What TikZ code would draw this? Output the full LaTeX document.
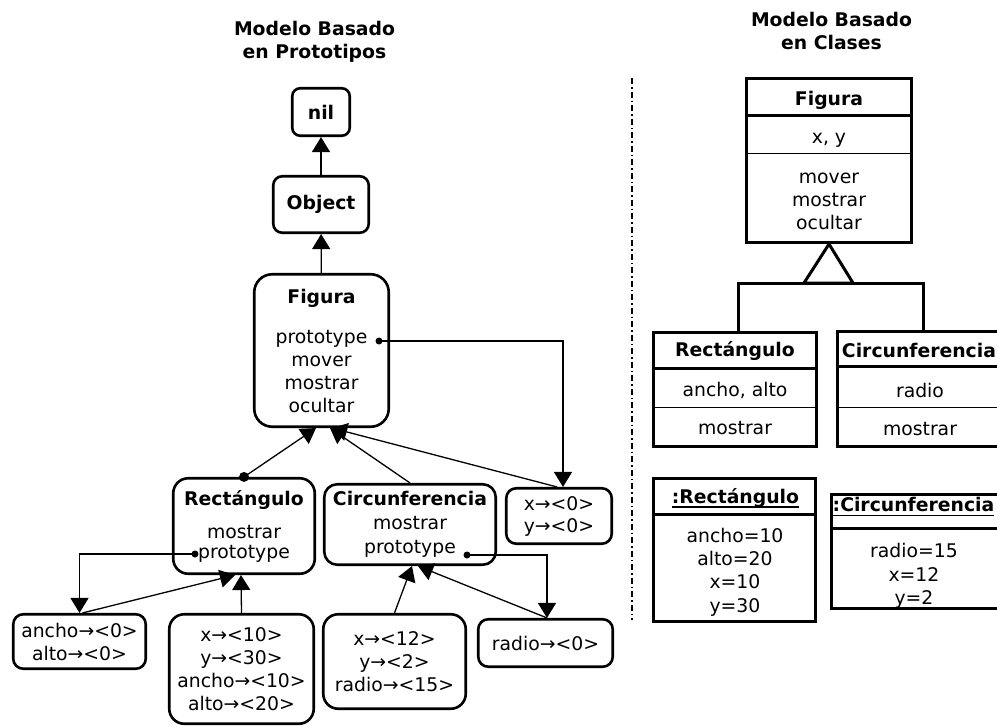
\documentclass[tikz,border=0pt]{standalone}
\usepackage{fontspec}
\setmainfont{DejaVu Sans}
\usetikzlibrary{arrows.meta}
\newcommand\regf{\fontsize{18.8}{23}\selectfont}
\begin{document}
\begin{tikzpicture}[x=1pt,y=-1pt,
  pbox/.style={draw, line width=2.6pt, rounded corners=10pt, inner sep=0pt, align=center, font=\regf},
  cbox/.style={draw, line width=2.6pt, inner sep=0pt},
  txt/.style={font=\regf, inner sep=0pt, anchor=base},
  btxt/.style={font=\regf\bfseries, inner sep=0pt, anchor=base},
  conn/.style={line width=1.3pt, -{Triangle[width=18pt,length=15pt]}},
  thicksep/.style={line width=3pt},
  thinsep/.style={line width=1pt},
  gen/.style={line width=3pt, line join=miter},
  divider/.style={line width=1.2pt, dash pattern=on 6pt off 3pt on 1.5pt off 3pt}]
\useasboundingbox (0,0) rectangle (997,726);
\clip (0,0) rectangle (997,726);

% titles
\node[font=\regf\bfseries, align=center, inner sep=0pt] (tl) at (314.5,41.6) {Modelo Basado\\en Prototipos};
\node[font=\regf\bfseries, align=center, inner sep=0pt] (tr) at (831.5,31.4) {Modelo Basado\\en Clases};

% prototype model
\node[pbox, rounded corners=8pt, minimum width=57.5pt, minimum height=47.5pt] (nil) at (321,112) {\textbf{nil}};
\node[pbox, rounded corners=9pt, minimum width=95.5pt, minimum height=56.5pt] (obj) at (321,204.5) {\textbf{Object}};
\node[pbox, rounded corners=18pt, minimum width=134.5pt, minimum height=152.5pt] (fig) at (321.5,350.5) {\textbf{Figura}\\[17pt]prototype\\mover\\mostrar\\ocultar};
\node[pbox, rounded corners=15pt, minimum width=141.5pt, minimum height=95.5pt] (rect) at (244,526) {\textbf{Rectángulo}\\[10pt]mostrar\\[-3pt]prototype};
\node[pbox, rounded corners=13pt, minimum width=171.5pt, minimum height=80.5pt] (circ) at (410,524.5) {\textbf{Circunferencia}\\[1pt]mostrar\\[1pt]prototype};
\node[pbox, minimum width=105.5pt, minimum height=55.5pt] (xy0) at (559,516) {x→<0>\\[-1pt]y→<0>};
\node[pbox, minimum width=132.5pt, minimum height=54.5pt] (anch) at (79.5,641.5) {ancho→<0>\\alto→<0>};
\node[pbox, rounded corners=15pt, minimum width=144.5pt, minimum height=109.5pt] (r10) at (241.5,669) {x→<10>\\y→<30>\\ancho→<10>\\alto→<20>};
\node[pbox, rounded corners=15pt, minimum width=142.5pt, minimum height=94.5pt] (c12) at (394.5,661.5) {x→<12>\\y→<2>\\radio→<15>};
\node[pbox, minimum width=134.5pt, minimum height=47.5pt] (rad0) at (545.5,643) {radio→<0>};

\draw[conn] (obj) -- (nil);
\draw[conn] (fig) -- (obj);

\coordinate (figp) at (379,341);
\fill (figp) circle (3.5pt);
\draw[conn] (figp) -| ([xshift=4pt]xy0.north);
\fill (rect.north) circle (5pt);
\draw[conn] (rect.north) -- ([xshift=-5.5pt]fig.south);
\draw[conn] (circ.north) -- ([xshift=8.5pt]fig.south);
\draw[conn] ([xshift=-2pt]xy0.north) -- ([xshift=10.5pt]fig.south);

\coordinate (rectp) at (195,554);
\fill (rectp) circle (3.5pt);
\draw[conn] (rectp) -| (anch.north);
\draw[conn] ([xshift=3pt]anch.north) -- ([xshift=-9pt]rect.south);
\draw[conn] (r10.north) -- ([xshift=-3pt]rect.south);

\coordinate (circp) at (467,555);
\fill (circp) circle (3.5pt);
\draw[conn] (circp) -| ([xshift=1.5pt]rad0.north);
\draw[conn] (c12.north) -- ([xshift=2pt]circ.south);
\draw[conn] ([xshift=1.5pt]rad0.north) -- ([xshift=8pt]circ.south);

% divider
\coordinate (dtop) at (632,78);
\coordinate (dbot) at (632,620);
\draw[divider] (dtop) -- (dbot);

% class model
\node[cbox, minimum width=165.5pt, minimum height=164.5pt] (cfig) at (829,160.5) {};
\draw[thicksep] ([yshift=-38.75pt]cfig.north west) -- ([yshift=-38.75pt]cfig.north east);
\draw[thinsep] ([yshift=-76.75pt]cfig.north west) -- ([yshift=-76.75pt]cfig.north east);
\node[btxt] (cfign) at (829,105.5) {Figura};
\node[txt] (cfiga) at (829,143) {x, y};
\node[txt] (cfigm1) at (829,183) {mover};
\node[txt] (cfigm2) at (829,206) {mostrar};
\node[txt] (cfigm3) at (829,229) {ocultar};

\node[cbox, minimum width=163.5pt, minimum height=114.5pt] (crect) at (735,389.5) {};
\draw[thicksep] ([yshift=-37.7pt]crect.north west) -- ([yshift=-37.7pt]crect.north east);
\draw[thinsep] ([yshift=-76.7pt]crect.north west) -- ([yshift=-76.7pt]crect.north east);
\node[btxt] (crectn) at (735,356.5) {Rectángulo};
\node[txt] (crecta) at (735,396) {ancho, alto};
\node[txt] (crectm) at (735,434) {mostrar};

\node[cbox, minimum width=165.5pt, minimum height=115.5pt] (ccirc) at (920,389) {};
\draw[thicksep] ([yshift=-36.75pt]ccirc.north west) -- ([yshift=-36.75pt]ccirc.north east);
\draw[thinsep] ([yshift=-77.75pt]ccirc.north west) -- ([yshift=-77.75pt]ccirc.north east);
\node[btxt] (ccircn) at (919,357) {Circunferencia};
\node[txt] (ccirca) at (920,397) {radio};
\node[txt] (ccircm) at (920,435) {mostrar};

\coordinate (tb) at (828.5,283);
\draw[gen] (cfig.south) -- ([xshift=-24.5pt]tb) -- ([xshift=24.5pt]tb) -- cycle;
\draw[gen] ([xshift=3pt]crect.north) |- (tb) -| ([xshift=3pt]ccirc.north);

% objects
\node[cbox, minimum width=162.5pt, minimum height=143.5pt] (orect) at (734.5,550) {};
\draw[thicksep] ([yshift=-37.75pt]orect.north west) -- ([yshift=-37.75pt]orect.north east);
\node[btxt] (orectn) at (735.5,503) {:Rectángulo};
\draw[line width=1.3pt] ([yshift=-4pt]orectn.base west) -- ([yshift=-4pt]orectn.base east);
\node[txt] (orect1) at (735,542) {ancho=10};
\node[txt] (orect2) at (735,565.3) {alto=20};
\node[txt] (orect3) at (735,588.6) {x=10};
\node[txt] (orect4) at (735,612) {y=30};

\node[cbox, minimum width=167.5pt, minimum height=114.5pt] (ocirc) at (915,551.5) {};
\draw[thicksep] ([yshift=-35.75pt]ocirc.north west) -- ([yshift=-35.75pt]ocirc.north east);
\node[btxt] (ocircn) at (913.5,511.5) {:Circunferencia};
\draw[line width=1.3pt] ([yshift=-4pt]ocircn.base west) -- ([yshift=-4pt]ocircn.base east);
\node[txt] (ocirc1) at (914,557.5) {radio=15};
\node[txt] (ocirc2) at (914,581) {x=12};
\node[txt] (ocirc3) at (914,604) {y=2};
\end{tikzpicture}
\end{document}
